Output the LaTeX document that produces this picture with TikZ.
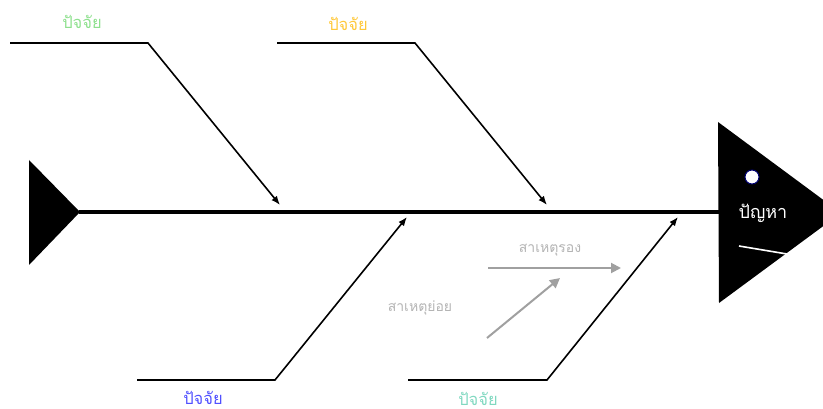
\documentclass[tikz,border=0pt]{standalone}
\usepackage{fontspec}
\newfontfamily\thaifont[Script=Thai]{Loma}
\usepackage{tikz}
\usetikzlibrary{arrows.meta, positioning, calc}
\usepackage{xcolor}
\definecolor{verde}{HTML}{8EE08E}
\definecolor{amarillo}{HTML}{FFC83A}
\definecolor{azul}{HTML}{5050FF}
\definecolor{turquesa}{HTML}{80D8C0}
\definecolor{gris}{HTML}{A0A0A0}
\definecolor{grisclaro}{HTML}{B4B4B4}
\tikzset{
	hueso/.style={line width=1.6pt, -{Latex[length=9pt, width=7pt]}},
	etiqueta/.style={font=\thaifont\fontsize{16.5}{18}\selectfont, inner sep=1pt, text depth=0pt},
	causa/.style={font=\thaifont\fontsize{14}{16}\selectfont, grisclaro},
	flecha/.style={gris, line width=2pt, -{Triangle[length=10pt, width=10pt]}}
}

\begin{document}
\begin{tikzpicture}[x=1pt, y=-1pt]
	\clip (0,0) rectangle (823,409);

	% Cola
	\fill (29,160) -- (80,212) -- (29,265) -- cycle;
	\coordinate (cola) at (79,212);

	% Cabeza
	\fill (718,122) -- (841,213) -- (719,303) -- cycle;
	\coordinate (cabeza) at (720,212);
	\node[circle, fill=white, draw=blue!45!black, line width=1pt, inner sep=0pt, minimum size=14pt] (ojo) at (752,177) {};
	\node[font=\thaifont\fontsize{18}{20}\selectfont, white] (problema) at (763,213) {ปัญหา};
	\coordinate (boca1) at (739,246);
	\coordinate (boca2) at (787,254);
	\draw[white, line width=1.6pt] (boca1) -- (boca2);

	% Espina
	\draw[line width=4pt] (cola) -- (cabeza);

	% Huesos superiores
	\coordinate (a1) at (10,43);
	\coordinate (a2) at (148,43);
	\coordinate (a3) at (280,205);
	\draw[hueso] (a1) -- (a2) -- (a3);
	\node[etiqueta, verde] (factor1) at (82,22) {ปัจจัย};

	\coordinate (b1) at (277,43);
	\coordinate (b2) at (415,43);
	\coordinate (b3) at (547,205);
	\draw[hueso] (b1) -- (b2) -- (b3);
	\node[etiqueta, amarillo] (factor2) at (348,24) {ปัจจัย};

	% Huesos inferiores
	\coordinate (c1) at (137,380);
	\coordinate (c2) at (275,380);
	\coordinate (c3) at (407,217);
	\draw[hueso] (c1) -- (c2) -- (c3);
	\node[etiqueta, azul] (factor3) at (203,398) {ปัจจัย};

	\coordinate (d1) at (408,380);
	\coordinate (d2) at (547,380);
	\coordinate (d3) at (678,217);
	\draw[hueso] (d1) -- (d2) -- (d3);
	\node[etiqueta, turquesa] (factor4) at (478,399) {ปัจจัย};

	% Causas
	\coordinate (e1) at (488,268);
	\coordinate (e2) at (621,268);
	\draw[flecha] (e1) -- (e2);
	\node[causa] (secundaria) at (550,250) {สาเหตุรอง};

	\coordinate (f1) at (487,338);
	\coordinate (f2) at (560,278);
	\draw[flecha] (f1) -- (f2);
	\node[causa] (menor) at (420,308) {สาเหตุย่อย};
\end{tikzpicture}
\end{document}
